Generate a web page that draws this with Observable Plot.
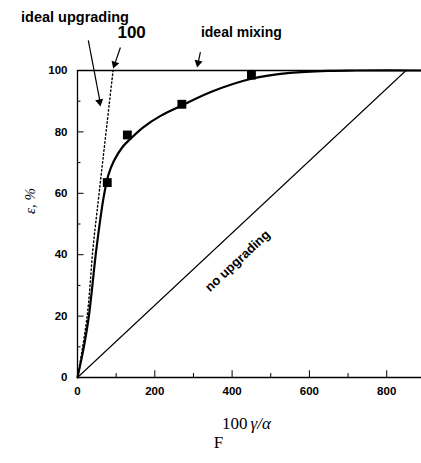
<!DOCTYPE html>
<html>
<head>
<meta charset="utf-8">
<script src="https://cdn.jsdelivr.net/npm/d3@7"></script>
<script src="https://cdn.jsdelivr.net/npm/@observablehq/plot@0.6"></script>
<style>
  html, body { margin: 0; padding: 0; background: #fff; }
  #chart svg { display: block; }
</style>
</head>
<body>
<div id="chart"></div>
<script>
// Measured points (squares)
const pointX = [77, 129, 270, 450];
const pointY = [63.5, 79, 89, 98.5];

// Fitted solid curve
const curveX = [0, 15, 29, 49, 68, 80, 94, 116, 135, 170, 216, 270, 345, 450, 550, 650, 720, 890];
const curveY = [0, 9, 19.6, 42, 59, 66, 70.5, 75, 77.5, 81.5, 85.3, 88.6, 93, 97.3, 99.2, 99.9, 100, 100];

// Ideal upgrading (dotted)
const idealUpX = [0, 25, 40, 55, 92];
const idealUpY = [0, 20, 42, 59, 100];

// Ideal mixing (top line) and no upgrading (diagonal)
const idealMixX = [0, 890];
const idealMixY = [100, 100];
const noUpX = [0, 850];
const noUpY = [0, 100];

// Ticks
const xTickLabels = [0, 200, 400, 600, 800];
const xMinorTicks = [100, 300, 500, 700];
const yTickLabels = [0, 20, 40, 60, 80, 100];
const yMinorTicks = [10, 30, 50, 70, 90];

// Annotations (data coordinates)
const annText = ["ideal upgrading", "100", "ideal mixing"];
const annX = [-6.5, 140, 424];
const annY = [117.3, 112.4, 112.4];
const annSize = [14.5, 17, 14];

// annotation arrows: shafts and filled heads
const arrowX1 = [28, 111, 318];
const arrowY1 = [109.8, 107.5, 106];
const arrowX2 = [58, 96, 312];
const arrowY2 = [90, 102, 102.5];
const headX = [57.2, 96.2, 312];
const headY = [89.8, 102.05, 102.5];
const headAngle = [169.5, 198.9, 191.9];

const zip = (xs, ys) => xs.map((x, i) => ({x, y: ys[i]}));
const pts = zip(pointX, pointY);
const curve = zip(curveX, curveY);
const idealUp = zip(idealUpX, idealUpY);
const idealMix = zip(idealMixX, idealMixY);
const noUp = zip(noUpX, noUpY);
const ann = annText.map((t, i) => ({t, x: annX[i], y: annY[i], s: annSize[i]}));
const arrows = arrowX1.map((x1, i) => ({x1, y1: arrowY1[i], x2: arrowX2[i], y2: arrowY2[i]}));
const heads = headX.map((x, i) => ({x, y: headY[i], a: headAngle[i]}));

const sans = "'Liberation Sans', Arial, sans-serif";
const serif = "'Liberation Serif', 'Times New Roman', serif";

const plot = Plot.plot({
  width: 421,
  height: 463,
  marginLeft: 77,
  marginRight: 0,
  marginTop: 70,
  marginBottom: 86,
  style: { fontFamily: sans, background: "#fff", overflow: "visible" },
  x: { domain: [0, 890], label: null },
  y: { domain: [0, 100], label: null },
  marks: [
    // frame: left and bottom
    Plot.ruleX([0], { y1: 0, y2: 100, stroke: "#000", strokeWidth: 1.3 }),
    Plot.ruleY([0], { x1: 0, x2: 890, stroke: "#000", strokeWidth: 1.5 }),
    // inward ticks
    Plot.ruleX(xTickLabels, { y1: 0, y2: 2.2, stroke: "#000", strokeWidth: 1 }),
    Plot.ruleX(xMinorTicks, { y1: 0, y2: 1.3, stroke: "#000", strokeWidth: 1 }),
    Plot.ruleY(yTickLabels, { x1: 0, x2: 17, stroke: "#000", strokeWidth: 1 }),
    Plot.ruleY(yMinorTicks, { x1: 0, x2: 9, stroke: "#000", strokeWidth: 1 }),
    // tick labels
    Plot.axisX({ ticks: xTickLabels, tickSize: 0, tickPadding: 9, fontSize: 11.5, fontWeight: "bold", tickFormat: d => String(d) }),
    Plot.axisY({ ticks: yTickLabels, tickSize: 0, tickPadding: 10, fontSize: 11.5, fontWeight: "bold", tickFormat: d => String(d) }),
    // lines
    Plot.line(idealMix, { x: "x", y: "y", stroke: "#000", strokeWidth: 1.5 }),
    Plot.line(noUp, { x: "x", y: "y", stroke: "#000", strokeWidth: 1.1 }),
    Plot.line(idealUp, { x: "x", y: "y", stroke: "#000", strokeWidth: 1.4, strokeDasharray: "1.5,2.5", curve: "catmull-rom" }),
    Plot.line(curve, { x: "x", y: "y", stroke: "#000", strokeWidth: 2.2, curve: "catmull-rom" }),
    Plot.dot(pts, { x: "x", y: "y", symbol: "square", r: 5, fill: "#000", stroke: "none" }),
    // annotations
    Plot.text(ann, { x: "x", y: "y", text: "t", fontSize: "s", fontWeight: "bold", fill: "#000", fontFamily: sans, clip: false }),
    Plot.link(arrows, { x1: "x1", y1: "y1", x2: "x2", y2: "y2", stroke: "#000", strokeWidth: 1.2, clip: false }),
    Plot.dot(heads, { x: "x", y: "y", symbol: "triangle", r: 3, rotate: "a", fill: "#000", stroke: "none", clip: false }),
    Plot.text(["no upgrading"], { x: () => 414, y: () => 38, text: d => d, rotate: -43, fontSize: 13, fontWeight: "bold", fill: "#000", fontFamily: sans }),
    // axis titles
    Plot.text(["ε, %"], { frameAnchor: "left", dx: -47, dy: -10, rotate: -90, text: d => d, fontSize: 15, fontStyle: "italic", fontFamily: serif, fill: "#000" }),
    Plot.text(["100"], { frameAnchor: "bottom", dx: -2, dy: 51, textAnchor: "end", text: d => d, fontSize: 17, fontFamily: serif, fill: "#000" }),
    Plot.text(["γ/α"], { frameAnchor: "bottom", dx: 1, dy: 51, textAnchor: "start", text: d => d, fontSize: 17, fontStyle: "italic", fontFamily: serif, fill: "#000" }),
    Plot.text(["F"], { frameAnchor: "bottom", dx: -31, dy: 70, text: d => d, fontSize: 17, fontFamily: serif, fill: "#000" })
  ]
});
document.getElementById("chart").appendChild(plot);
</script>
</body>
</html>
